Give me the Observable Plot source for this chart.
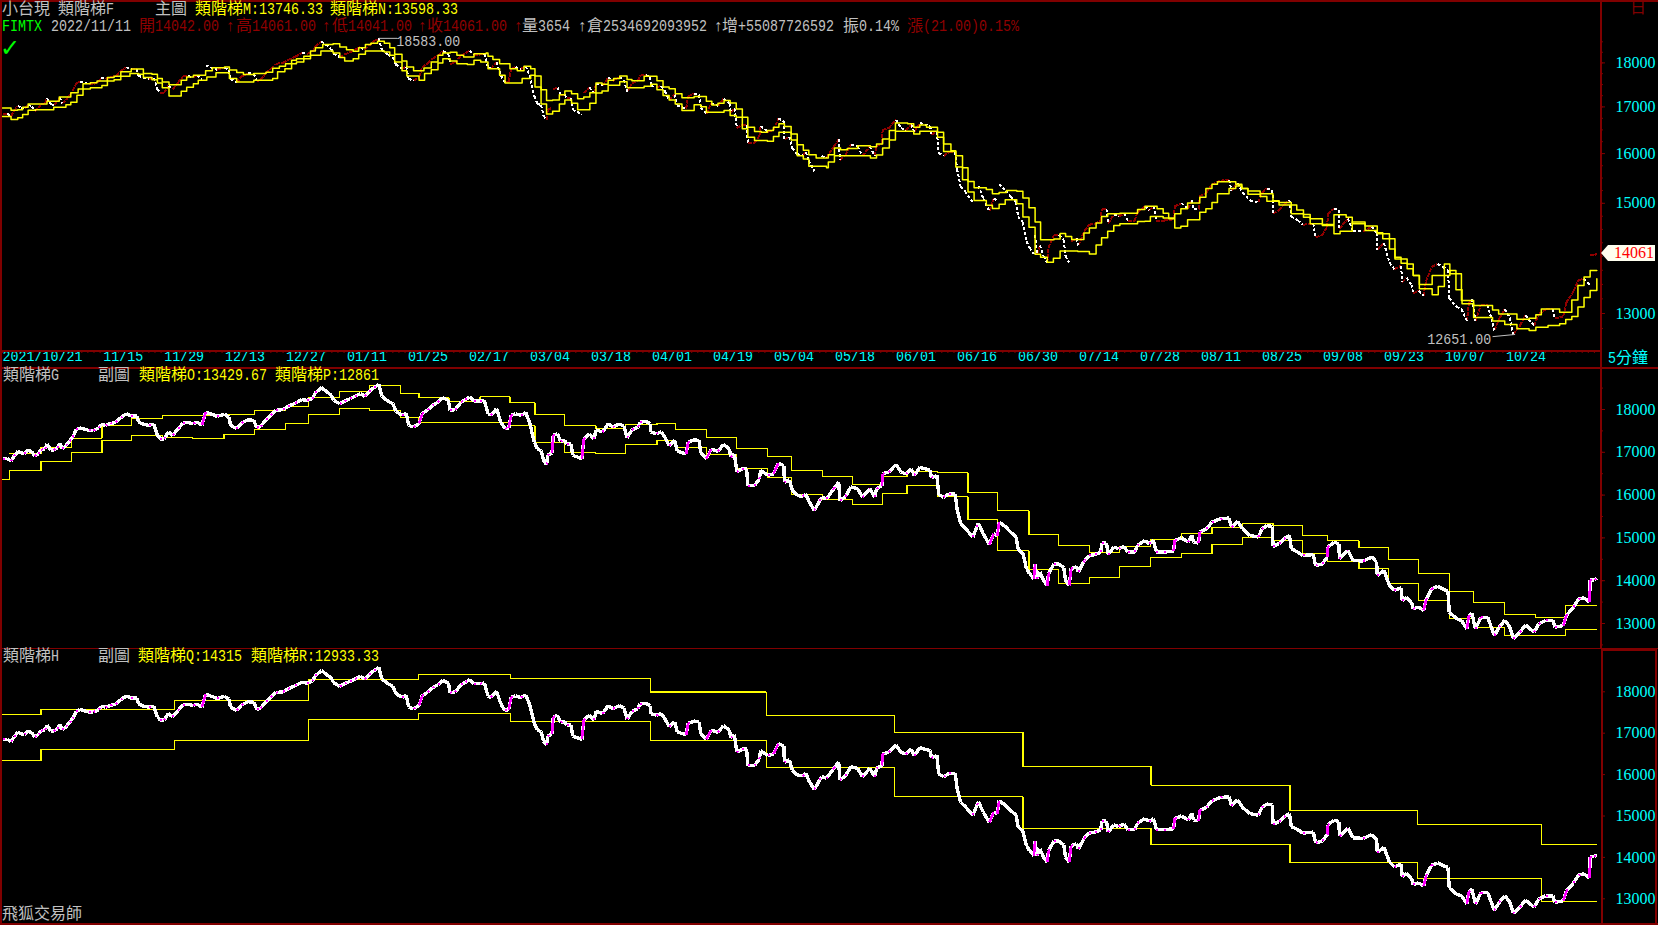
<!DOCTYPE html>
<html><head><meta charset="utf-8">
<script src="https://cdn.jsdelivr.net/npm/d3@7"></script>
<script src="https://cdn.jsdelivr.net/npm/@observablehq/plot@0.6"></script>
<style>
html,body{margin:0;padding:0;background:#000;width:1658px;height:925px;overflow:hidden}
#stage{position:relative;width:1658px;height:925px;overflow:hidden;font-family:'Liberation Serif','Noto Sans CJK TC',serif;font-size:16px}
#stage svg{display:block}
.p{position:absolute;left:0}
.t{position:absolute;line-height:16px;white-space:pre}
.a{display:inline-block;font-family:'Liberation Mono',monospace;font-size:17px;transform:scaleX(.784);transform-origin:0 50%}
.b{position:absolute;background:#800000}
</style></head><body><div id="stage"></div>
<script>
// session index of each read close, and the close itself
const closeDay=[0,0.8,1.4,1.9,2.5,3.1,3.6,4.2,4.8,5.3,5.9,6.3,7,7.3,7.9,8.4,9,9.4,9.8,10.4,11,11.5,12.1,12.7,13.5,14.2,14.9,15.8,16.2,16.9,17.7,18.6,19.4,20.3,21.1,22,22.3,23.1,24,24.8,25.4,25.9,26.5,27.2,27.9,28.8,29.6,30.4,31.3,31.9,32.7,33.3,34.1,35.2,36.4,37.1,37.4,38.4,39.2,40.3,41.2,41.7,42.3,43.2,44,44.8,46,46.8,48,49.1,49.9,50.8,51.3,52.3,53,53.9,54.3,55.3,56.1,57,57.8,58.7,59.4,60.1,60.9,61.7,62.2,63.2,64,64.5,65.5,66.2,66.6,67.4,68.3,68.8,69.7,70.5,71.4,72.2,73.1,73.4,74.2,75.2,75.9,76.6,77.3,78.3,79,79.6,80.1,81,81.7,82.4,83,83.4,84.1,85,85.8,86.4,
87.2,87.7,88.3,88.7,89.2,89.4,90.1,90.3,91,91.5,92.2,92.5,93.2,93.5,94.2,95,95.3,96.2,97,97.3,98.4,99.3,100.1,101.1,101.9,102.4,103.2,104.2,104.5,105.5,106.2,106.3,107.2,108,108.6,109.3,110.2,110.6,111.4,112.1,112.4,113.4,114.2,114.5,115.4,116.2,117.3,118.2,119.2,119.4,120,120.4,121.3,122,122.2,123.3,124.1,124.3,125.5,126.4,127.2,128.1,128.2,129,129.5,130.3,131.2,131.7,132.2,133.1,134.3,135.1,136.3,137.1,137.3,138.2,139.1,140.2,141,142.2,143,143.3,144.2,144.3,145.3,146.5,147.3,148.1,149,149.5,150.4,152.1,152.3,153.2,153.5,154.3,155.2,156.2,156.5,157.1,157.8,159.1,160,160.8,161.8,162.5,163.1,163.4,164.5,165.3,166.2,166.5,167.3,167.9,168.4,169.1,169.3,169.6,170.1,170.7,171.3,171.5,172.4,173.2,
174,174.3,174.9,175.2,176.1,176.4,177.4,178.2,179.1,180.1,180.2,181,181.3,182.2,183,183.9,184.5,185.6,186.1,187.3,188,188.7,189.2,190.4,192,192.2,193.3,194.4,195,195.3,196.1,196.3,197.4,198.3,199.7,201.1,201.5,202.5,203.3,204.5,205.9,206.5,207.3,208.2,208.3,209.3,210.1,211,211.3,212.4,213.2,214.9,215.3,216.4,217.2,217.3,218.3,219.1,219.2,220.6,221.4,223.1,224.5,225.3,225.4,226.5,227.4,228.2,229.3,229.5,230.2,231,231.3,232.2,233,233.4,234.3,235.3,236.1,237,237.2,238.4,239.2,240.1,240.4,240.9,241.5,242.4,243.5,244.1,244.6,245.4,246.3,247.1,247.7,248.8,249.7,251.1,251.9,253,254.2,254.5,255.9,256.4,257.6,258.4,259.3,260.2,260.3,261,261.4];
const close=[16855,16855,16795,16910,17020,16985,16970,17050,17010,16910,16970,17060,17080,17195,17055,17050,17105,17210,17080,17155,17260,17355,17530,17570,17540,17510,17510,17570,17655,17630,17670,17705,17810,17900,17850,17850,17705,17655,17630,17655,17395,17315,17315,17475,17395,17550,17685,17695,17670,17705,17630,17940,17900,17840,17890,17825,17630,17550,17685,17760,17745,17575,17605,17760,17865,17980,18000,18070,18147,18232,18212,18252,18388,18513,18433,18333,18217,18132,18197,18252,18308,18373,18308,18413,18513,18583,18308,18197,18132,17960,17865,17915,17630,17590,17670,17900,17990,18095,18172,18277,18212,17980,17995,18172,18232,18292,18197,18197,18212,17900,17865,18020,17705,17550,17570,17865,17900,17865,17925,17705,
17235,17078,17037,16810,16715,16930,16985,17395,17433,17259,17275,17195,17195,16930,16890,16850,17314,17433,17314,17525,17473,17665,17590,17665,17610,17338,17525,17590,17705,17720,17665,17473,17433,17473,17354,17156,17275,17037,16990,16965,17235,17291,17275,16985,16850,17076,17021,17180,17076,16890,16965,16540,16615,16615,16220,16220,16380,16578,16460,16498,16745,16690,16300,16355,16110,15990,15967,16030,15856,15640,15950,15910,16150,16300,15870,15967,16190,16150,15950,16150,15950,16150,16220,16498,16540,16715,16540,16498,16615,16460,16650,16578,16403,16460,16014,15950,16030,16030,15680,15330,15235,15020,15347,15093,14847,15093,15053,15371,15252,15133,15020,14744,14632,14275,14163,14044,14394,14044,14202,14004,13885,14163,14394,14394,
14299,14003,13889,14281,14331,14202,14474,14588,14611,14667,14881,14881,14611,14786,14746,14802,14667,14667,14826,14939,14865,14939,14667,14667,14691,14939,15002,14899,15058,14899,14881,15137,15210,15369,15448,15464,15250,15393,15210,15058,15018,15210,15290,15266,14802,14865,14978,15058,14746,14667,14588,14611,14355,14394,14553,14786,14899,14865,14513,14707,14474,14458,14553,14434,14123,14242,13889,13770,13834,13537,13617,13498,13345,13385,13305,13553,13810,13866,13810,13755,13266,13112,13072,12874,13163,13242,12874,13147,13147,12914,12719,12914,13072,12930,12651,12798,12969,12798,12993,13072,13072,12914,12953,13186,13385,13577,13601,13498,14020,14020,14061];

// main-chart ladders (upper and lower envelope of M and N)
const ladderMDay=[0,1.4,2.5,3.3,4.2,5.3,7.3,9.3,11.2,12.4,13.2,14.4,15.5,17.2,18.3,19.4,21.1,22.3,23.1,24.5,25.4,26.2,27.3,29.3,30.2,31.3,33.3,34.4,36.4,37.2,38.4,39.5,41.2,43.2,44.3,45.4,46.4,47.4,48.2,49.4,50.5,51.3,52.5,54.2,55.3,56.4,57.5,58.4,59.5,60.4,61.5,62.6,63.5,64.3,65.5,66.3,67.4,69.1,70.3,71.4,72.2,73.4,74.5,75.6,77.3,79.3,79.6,80.4,81.5,83.2,84.4,85.5,
86.6,87.3,88.3,89.2,90.2,91.3,92.2,93.3,94.3,95.3,96.3,97.3,98.3,99.3,100.2,101.2,102.4,103.2,105.2,107.3,108.3,109.3,110.3,111.4,113.4,115.4,116.3,117.3,118.3,119.3,120.3,121.3,122.2,123.3,124.4,125.4,126.4,127.3,128.2,129.3,130.3,131.3,132.2,133.4,135.4,136.4,137.4,138.5,140.2,142.3,143.3,144.3,145.4,146.4,148.4,149.4,150.4,151.5,153.3,154.3,155.5,156.3,157.4,158.3,159.3,161.3,162.3,163.4,164.6,166.3,167.3,168.3,169.3,170.2,171.3,172.4,
173.4,174.3,175.3,177.3,178.2,179.3,180.2,181.2,183.2,186.1,187.3,189.3,190.3,191.2,192.2,193.2,194.3,196.3,197.3,198.3,199.2,202.2,203.2,204.2,206.2,208.3,209.3,212.2,213.3,214.4,216.4,218.3,220.3,221.3,223.4,225.4,226.3,227.4,228.3,229.3,230.3,231.3,232.3,233.4,234.4,236.4,237.3,238.3,239.3,241.2,244.3,245.3,248.3,250.3,251.4,252.3,255.3,257.3,258.3,259.3,260.3,261.4];
const ladderM=[16976,16924,16938,16991,17066,17066,17128,17222,17316,17402,17519,17543,17582,17660,17691,17793,17858,17858,17754,17738,17637,17558,17496,17598,17676,17715,17816,17889,17905,17832,17777,17730,17754,17785,17874,17921,17983,18061,18100,18155,18280,18358,18436,18452,18374,18311,18272,18358,18436,18467,18514,18467,18358,18202,18045,17905,17816,17881,18022,18178,18233,18248,18178,18139,18217,18233,18155,18077,17983,17866,17816,17921,
17863,17696,17384,17141,17156,17270,17353,17293,17180,17218,17315,17537,17506,17600,17637,17696,17616,17585,17688,17585,17445,17407,17293,17204,17233,17126,17041,17080,17141,17087,16955,16775,16558,16466,16452,16487,16558,16630,16573,16415,16185,16070,15977,15910,15977,16115,16080,16105,16165,16145,16200,16308,16487,16650,16630,16558,16608,16558,16452,16200,16058,15957,15710,15432,15306,15273,15187,15213,15250,15238,15104,14915,14638,14305,14305,14322,
14424,14368,14312,14431,14528,14622,14744,14796,14808,14879,14942,14892,14808,14718,14796,14892,15005,15120,15289,15377,15425,15377,15289,15241,15187,15052,14968,14872,14783,14700,14595,14777,14732,14608,14565,14437,14325,14136,13983,13876,13777,13659,13499,13499,13659,13864,13690,13408,13165,13137,13061,12992,12904,12922,12980,13078,13020,13231,13482,13630,13746.33,13746.33];
const ladderNDay=[0,1.4,2.5,3.3,4.2,5.3,8.4,10.4,11.2,12.2,13.2,14.4,16.3,17.2,18.3,19.4,20.9,22.3,23.1,24.5,25.4,26.2,27.3,29.3,30.2,31.3,32.1,33.5,35,36.4,37.2,38.4,41.2,44.3,45.1,46.3,47.4,48.2,49.4,50.5,52.2,54.2,55.3,56.1,57.5,58.4,59.5,62.6,63.5,64.3,65.5,66.3,68.3,69.2,70.3,71.4,72.2,73.4,74.5,76.2,77.3,78.4,79.6,81.5,82.4,84.1,85.2,
86.6,87.3,88.3,89.2,90.2,91.3,92.2,93.3,94.3,96.3,97.3,98.3,99.3,101.2,102.4,105.2,106.3,107.3,108.3,109.3,110.3,111.4,113.4,114.5,115.4,118.3,119.3,120.3,121.3,122.2,123.3,125.4,126.4,127.3,129.3,130.3,131.3,132.2,135.1,135.4,136.4,139.4,142.3,143.3,144.3,145.4,146.4,149.4,150.4,153.3,154.3,156.3,157.4,158.3,159.3,161.3,162.3,163.4,164.4,166.3,167.3,168.3,169.3,170.2,171.3,172.3,
173.4,176.3,177.3,178.2,179.3,180.2,181.2,182.2,183.2,186.1,187.3,188.2,190.3,191.2,192.2,193.2,194.3,196.3,197.3,198.3,199.2,201.1,202.2,203.2,204.2,206.2,207.3,209.3,211.3,213.3,214.4,216.4,218.3,219.3,221.3,223.4,225.4,227.4,228.3,230.3,231.3,232.3,234.4,235.4,236.4,237.3,238.3,239.2,241.2,242.3,244.3,246.3,248.3,250.3,251.4,253.4,255.3,256.3,257.3,258.3,259.3,260.3,261.4];
const ladderN=[16790,16724,16761,16835,16924,16938,16991,17050,17105,17261,17402,17426,17480,17582,17613,17691,17754,17738,17660,17613,17535,17426,17245,17348,17441,17519,17598,17676,17769,17769,17637,17558,17598,17637,17793,17866,17983,18022,18100,18178,18280,18233,18124,18045,18100,18202,18280,18256,18178,18022,17816,17699,17598,17754,17842,17999,18100,18045,17983,17960,18061,18022,17866,17715,17535,17535,17637,
17712,17445,17065,16845,16905,17065,17156,17080,16935,17080,17308,17353,17485,17562,17431,17461,17506,17384,17255,17156,17065,16920,17049,17005,16882,16920,16811,16775,16525,16345,16272,16258,16358,16452,16286,15958,15890,15737,15710,15825,15958,15958,15910,15970,16115,16286,16473,16415,16473,16345,16045,15722,15466,15220,15055,14960,14897,14980,15068,14992,14735,14542,14040,13985,13896,13965,14100,
14089,14089,14042,14210,14343,14466,14575,14608,14650,14656,14744,14718,14700,14525,14558,14682,14829,14892,15018,15187,15289,15342,15289,15175,15135,15038,15018,14796,14732,14608,14575,14418,14466,14638,14480,14418,14325,13955,13864,13659,13425,13320,13466,13659,13748,13690,13222,12934,12934,12875,12815,12745,12716,12770,12800,12830,12900,12950,13110,13275,13395,13598.33,13598.33];

// sub-chart G ladders
const ladderGDay=[0,1.2,6.3,11.25,16.3,21.2,26.2,31.2,36.3,41.3,46.4,50.2,55.3,60.2,65.2,68.3,73.2,78.3,83.2,87.3,92.2,97.3,102.2,107.3,110.3,115.4,120.3,125.4,129.3,134.4,139.3,144.3,148.3,153.3,158.3,163.2,168.3,173.2,178.2,183.2,188.2,193.3,198.3,203.3,208.3,213.2,217.3,222.4,227.3,232.2,237.3,241.2,246.3,251.4,256.3,261.3];
const ladderO=[null,16964,17120,17330,17626,17797,17852,17852,17875,17969,18070,18272,18428,18553,18366,18272,18195,18296,18156,17875,17618,17548,17642,17665,17525,17338,17081,16894,16567,16427,16240,16435,16559,16520,16053,15633,15072,14815,14659,14807,14970,15095,15251,15344,15282,15048,14931,14768,14487,14160,13740,13483,13202,13132,13429.67,13429.67];
const ladderP=[16357,16567,16793,16987,17268,17385,17353,17314,17408,17525,17665,17875,18015,17969,17805,17688,17704,17688,17618,17221,16988,16964,17175,17268,17104,16941,16614,16404,16006,15890,15773,16030,16217,15960,15422,14698,14254,13927,14067,14324,14534,14628,14838,15001,14931,14628,14441,14277,13927,13530,13109,12899,12712,12712,12861,12861];

// sub-chart H ladders
const ladderHDay=[0,6.3,28.2,50.2,68.2,83.3,106.2,125.2,146.3,167.3,188.3,211.1,232,252.3,261.3];
const ladderQ=[17444,17565,17782,18289,18410,18325,17994,17432,17023,16205,15746,15125,14787,14315,14315];
const ladderR=[16333,16598,16816,17323,17468,17282,16823,16181,15471,14698,14311,13869,13483,12933.33,12933.33];

// axis labels
const dateTickDay=[0,16.5,26.5,36.5,46.5,56.5,66.5,76.5,86.5,96.5,106.5,116.5,126.5,136.5,146.5,156.5,166.5,176.5,186.5,196.5,206.5,216.5,226.5,236.5,246.5];
const dateLabels=["2021/10/21","11/15","11/29","12/13","12/27","01/11","01/25","02/17","03/04","03/18","04/01","04/19","05/04","05/18","06/01","06/16","06/30","07/14","07/28","08/11","08/25","09/08","09/23","10/07","10/24"];
const priceTicks=[13000,14000,15000,16000,17000,18000];
const minorTicksMain=d3.range(12750,18700,250);
const minorTicksSub=d3.range(12500,18700,500);

const RED="#800000",YEL="#ffff00",CY="#00ffff",GR="#c0c0c0",MG="#ff00ff";
const FONT="'Liberation Serif','Noto Sans CJK TC',serif";
const series=d3.zip(closeDay,close).map(([x,y])=>({x,y}));
const segs=d3.pairs(series).map(([a,b])=>({x1:a.x,y1:a.y,x2:b.x,y2:b.y,up:b.y>=a.y,size:Math.abs(b.y-a.y),dx:b.x-a.x}));
const steps=(days,vals)=>d3.zip(days,vals).map(([x,y])=>({x,y}));
const ladder=(days,vals,w,rendering)=>Plot.line(steps(days,vals),{x:"x",y:"y",stroke:YEL,strokeWidth:w,curve:"step-after",shapeRendering:rendering});
const linkXY={x1:"x1",y1:"y1",x2:"x2",y2:"y2",shapeRendering:"crispEdges"};
const xScale={domain:[0,262],range:[2,1600]};
const axes=(major,minor)=>[
  Plot.axisY({anchor:"right",ticks:minor,tickSize:2,stroke:RED,tickFormat:()=>""}),
  Plot.axisY({anchor:"right",ticks:major,tickSize:4,tickPadding:11,stroke:RED,fill:CY,fontSize:16,tickFormat:d=>String(d)})
];
const base={width:1658,marginLeft:2,marginRight:58,marginTop:0,style:{background:"#000",fontFamily:FONT,fontSize:"16px",overflow:"visible"}};

const main=Plot.plot({...base,height:367,marginBottom:17,x:{...xScale,axis:null},
  y:{type:"log",domain:[13000,18000],range:[313,62.4],axis:null},
  marks:[
    ...axes(priceTicks.filter(d=>d!==14000),minorTicksMain),
    Plot.axisX({anchor:"bottom",ticks:d3.range(0,262),tickSize:3,stroke:RED,tickFormat:()=>""}),
    Plot.axisX({anchor:"bottom",ticks:dateTickDay,tickSize:0,tickPadding:0,fill:CY,fontSize:15,textAnchor:"start",tickFormat:d=>dateLabels[dateTickDay.indexOf(d)]}),
    Plot.link(segs.filter(d=>d.up&&d.size<300),{...linkXY,stroke:"#900000",strokeWidth:2,strokeDasharray:"4 1"}),
    Plot.link(segs.filter(d=>!d.up&&d.size<500),{...linkXY,stroke:"#fff",strokeWidth:2,strokeDasharray:"3 2"}),
    ladder(ladderMDay,ladderM,1.5,"auto"),
    ladder(ladderNDay,ladderN,1.5,"auto"),
    Plot.link([{a:61.7,b:64.7,v:18583}],{x1:"a",x2:"b",y1:"v",y2:"v",stroke:GR}),
    Plot.text([{a:64.9,v:18583,t:"18583.00"}],{x:"a",y:"v",text:"t",textAnchor:"start",fill:GR,fontSize:15,dx:-2,dy:3}),
    Plot.link([{a:244.3,b:248,u:12615,v:12651}],{x1:"a",x2:"b",y1:"u",y2:"v",stroke:GR}),
    Plot.text([{a:244.1,v:12610,t:"12651.00"}],{x:"a",y:"v",text:"t",textAnchor:"end",fill:GR,fontSize:15,dy:2})
  ]});

const sub=(height,yRange,dayL,a,b)=>Plot.plot({...base,height,marginBottom:0,x:{...xScale,axis:null},
  y:{domain:[13000,18000],range:yRange,axis:null},
  marks:[
    ...axes(priceTicks,minorTicksSub),
    ladder(dayL,a,1.2,"crispEdges"),
    ladder(dayL,b,1.2,"crispEdges"),
    Plot.link(segs,{...linkXY,stroke:"#fff",strokeWidth:3.4}),
    Plot.link(segs.filter(d=>d.up&&d.size>=220&&d.dx<0.8),{...linkXY,stroke:MG,strokeWidth:2.6}),
    Plot.link(segs.filter(d=>d.up&&!(d.size>=220&&d.dx<0.8)),{...linkXY,stroke:MG,strokeWidth:2,strokeDasharray:"2 9"})
  ]});
const subG=sub(281,[256,42],ladderGDay,ladderO,ladderP);
const subH=sub(277,[250.3,43.3],ladderHDay,ladderQ,ladderR);

const stage=document.getElementById("stage");
[[main,0],[subG,367],[subH,648]].forEach(([el,top])=>{
  el.querySelectorAll("text").forEach(t=>{
    const s=t.textContent,n=s.length;
    if(!n||/^\d{5}$/.test(s))return; // price ticks keep the serif digits, 8px apiece at 16px
    t.style.fontFamily="'Liberation Mono',monospace";
    t.style.fontSize="15px";
    t.setAttribute("textLength",n*8);
    t.setAttribute("lengthAdjust","spacingAndGlyphs");
  });
  const w=document.createElement("div");w.className="p";w.style.top=top+"px";w.appendChild(el);stage.appendChild(w);
});

const bar=(l,t,w,h)=>{const d=document.createElement("div");d.className="b";Object.assign(d.style,{left:l+"px",top:t+"px",width:w+"px",height:h+"px"});stage.appendChild(d);};
bar(0,0,1658,2);bar(0,0,2,925);bar(0,923,1658,2);
bar(0,350,1600,1.5);bar(0,367,1658,1.5);bar(0,647.5,1658,1.5);bar(1600,0,1.5,648);
bar(1601,649,2,275);bar(1655,649,2,275);bar(1601,649,56,2);

const text=(s,x,cy,c,extra)=>{
  const d=document.createElement("span");d.className="t";
  Object.assign(d.style,{left:x+"px",top:(cy-8)+"px",color:c},extra||{});
  s.split(/([\x20-\x7e]+)/).filter(Boolean).forEach(run=>{
    const r=document.createElement("span");
    r.textContent=run;
    if(/^[\x20-\x7e]+$/.test(run)){r.className="a";r.style.marginRight=(-run.length*2.2)+"px";}
    d.appendChild(r);
  });
  stage.appendChild(d);
};
// header row 1
text("小台現",2,8.5,GR);text("類階梯F",58,8.5,GR);text("主圖",155,8.5,GR);
text("類階梯M:13746.33",195,8.5,YEL);text("類階梯N:13598.33",330,8.5,YEL);
// header row 2
const R2=25.5;
text("FIMTX",2,R2,"#00ff00");text("2022/11/11",51,R2,GR);
[["開14042.00",139],["↑",226],["高14061.00",236],["↑",322],["低14041.00",332],["↑",418],["收14061.00",427],["↑",514]].forEach(([s,x])=>text(s,x,R2,"#900000"));
[["量3654",522],["↑",578],["倉2534692093952",587],["↑",714],["增+55087726592",722],["振0.14%",843]].forEach(([s,x])=>text(s,x,R2,GR));
text("漲(21.00)0.15%",907,R2,"#900000");
{const c=document.createElement("span");c.className="t";c.textContent="✓";Object.assign(c.style,{left:"0px",top:"38px",color:"#00ff00",fontSize:"24px",lineHeight:"20px",fontWeight:"bold",fontFamily:"'DejaVu Sans'"});stage.appendChild(c);}
text("日",1630,8,RED);
// strip
text("5分鐘",1608,358,CY);
// sub headers
text("類階梯G",3,374.5,GR);text("副圖",98,374.5,GR);text("類階梯O:13429.67",139,374.5,YEL);text("類階梯P:12861",275,374.5,YEL);
text("類階梯H",3,656,GR);text("副圖",98,656,GR);text("類階梯Q:14315",138,656,YEL);text("類階梯R:12933.33",251,656,YEL);
text("飛狐交易師",2,914,GR);
// last price tag
const tag=document.createElement("div");
tag.textContent="14061";
Object.assign(tag.style,{position:"absolute",left:"1601px",top:"245px",width:"54px",height:"16px",lineHeight:"16px",background:"#fffff0",color:"#ff0000",paddingLeft:"13px",boxSizing:"border-box",fontFamily:"'Liberation Serif'",clipPath:"polygon(0 50%,7px 0,100% 0,100% 100%,7px 100%)"});
stage.appendChild(tag);
</script></body></html>
